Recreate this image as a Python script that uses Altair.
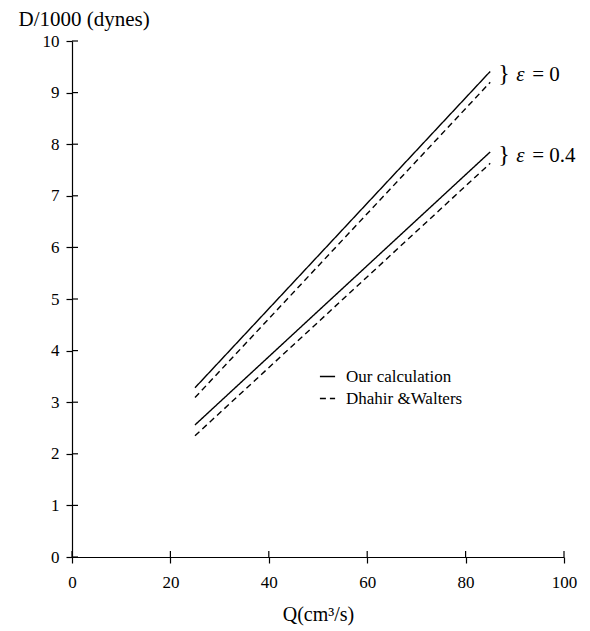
import altair as alt
import pandas as pd

# ---- data ----
q = [25, 85]
solid_eps0 = [3.28, 9.41]
dashed_eps0 = [3.09, 9.20]
solid_eps04 = [2.56, 7.85]
dashed_eps04 = [2.35, 7.63]

sources = ["Our calculation", "Dhahir &Walters"]
eps_labels = ["0", "0.4"]
x_ticks = [0, 20, 40, 60, 80, 100]
y_ticks = [0, 1, 2, 3, 4, 5, 6, 7, 8, 9, 10]

rows = []
for eps, src, vals in [
    ("0", sources[0], solid_eps0),
    ("0", sources[1], dashed_eps0),
    ("0.4", sources[0], solid_eps04),
    ("0.4", sources[1], dashed_eps04),
]:
    for qi, v in zip(q, vals):
        rows.append({"Q": qi, "D": v, "eps": eps, "source": src})
df = pd.DataFrame(rows)

# annotation anchors: end of each pair of lines
ann = pd.DataFrame({
    "Q": [q[-1], q[-1]],
    "D": [(solid_eps0[-1] + dashed_eps0[-1]) / 2, (solid_eps04[-1] + dashed_eps04[-1]) / 2],
    "eq": ["= " + e for e in eps_labels],
})

xt = pd.DataFrame({"t": x_ticks})
yt = pd.DataFrame({"t": y_ticks})

SERIF = "Liberation Serif"
W, H = 492, 516

x_scale = alt.Scale(domain=[0, 100], nice=False, zero=False)
y_scale = alt.Scale(domain=[0, 10], nice=False)

x_axis = alt.Axis(
    values=x_ticks, title="Q(cm³/s)", titleFont=SERIF, titleFontSize=20,
    titleFontWeight="normal", titleColor="black", titleY=63,
    titleBaseline="alphabetic", labelFont=SERIF, labelFontSize=17,
    labelColor="black", labelPadding=11, tickSize=6, tickColor="black",
    tickWidth=1.2, domainColor="black", domainWidth=1.2, grid=False,
    labelFlush=False,
)
y_axis = alt.Axis(
    values=y_ticks, title="D/1000 (dynes)", titleAngle=0, titleX=-54,
    titleY=-16, titleAlign="left", titleBaseline="alphabetic",
    titleFont=SERIF, titleFontSize=21, titleFontWeight="normal",
    titleColor="black", labelFont=SERIF, labelFontSize=17,
    labelColor="black", labelPadding=7, tickSize=6, tickColor="black",
    tickWidth=1.2, domainColor="black", domainWidth=1.2, grid=False,
    labelFlush=False,
)

lines = alt.Chart(df).mark_line(color="black", strokeWidth=1.4).encode(
    x=alt.X("Q:Q", scale=x_scale, axis=x_axis),
    y=alt.Y("D:Q", scale=y_scale, axis=y_axis),
    strokeDash=alt.StrokeDash(
        "source:N",
        scale=alt.Scale(domain=sources, range=[[1, 0], [6, 4]]),
        legend=alt.Legend(
            orient="none", legendX=247, legendY=327, title=None,
            labelFont=SERIF, labelFontSize=17, labelColor="black",
            symbolType="stroke", symbolSize=230, symbolStrokeColor="black",
            symbolStrokeWidth=1.3, rowPadding=4, labelOffset=10,
        ),
    ),
    detail="eps:N",
)

xtick_in = alt.Chart(xt).mark_rule(color="black", strokeWidth=1.2).encode(
    x=alt.X("t:Q", scale=x_scale), y=alt.value(H - 6), y2=alt.value(H)
)
ytick_in = alt.Chart(yt).mark_rule(color="black", strokeWidth=1.2).encode(
    y=alt.Y("t:Q", scale=y_scale), x=alt.value(0), x2=alt.value(6)
)

brace = alt.Chart(ann).mark_text(
    text="}", font=SERIF, fontSize=24, align="left", baseline="middle",
    dx=8, dy=-3, color="black"
).encode(x=alt.X("Q:Q", scale=x_scale), y=alt.Y("D:Q", scale=y_scale))

eps_sym = alt.Chart(ann).mark_text(
    text="ε", font=SERIF, fontSize=21, fontStyle="italic", align="left",
    baseline="middle", dx=26, dy=-2, color="black"
).encode(x=alt.X("Q:Q", scale=x_scale), y=alt.Y("D:Q", scale=y_scale))

eq_txt = alt.Chart(ann).mark_text(
    font=SERIF, fontSize=21, align="left", baseline="middle",
    dx=42, dy=-2, color="black"
).encode(x=alt.X("Q:Q", scale=x_scale), y=alt.Y("D:Q", scale=y_scale), text="eq:N")

chart = alt.layer(lines, xtick_in, ytick_in, brace, eps_sym, eq_txt).properties(
    width=W, height=H,
    autosize=alt.AutoSizeParams(type="none"),
    padding={"left": 64, "top": 33, "right": 18, "bottom": 74},
    background="white",
).configure_view(stroke=None).configure_axis(
    labelFont=SERIF, labelFontSize=17, titleFont=SERIF
).configure_legend(
    labelFont=SERIF, labelFontSize=17
).configure_text(font=SERIF)

chart.save("out.html", embed_options={"renderer": "svg", "actions": False})
